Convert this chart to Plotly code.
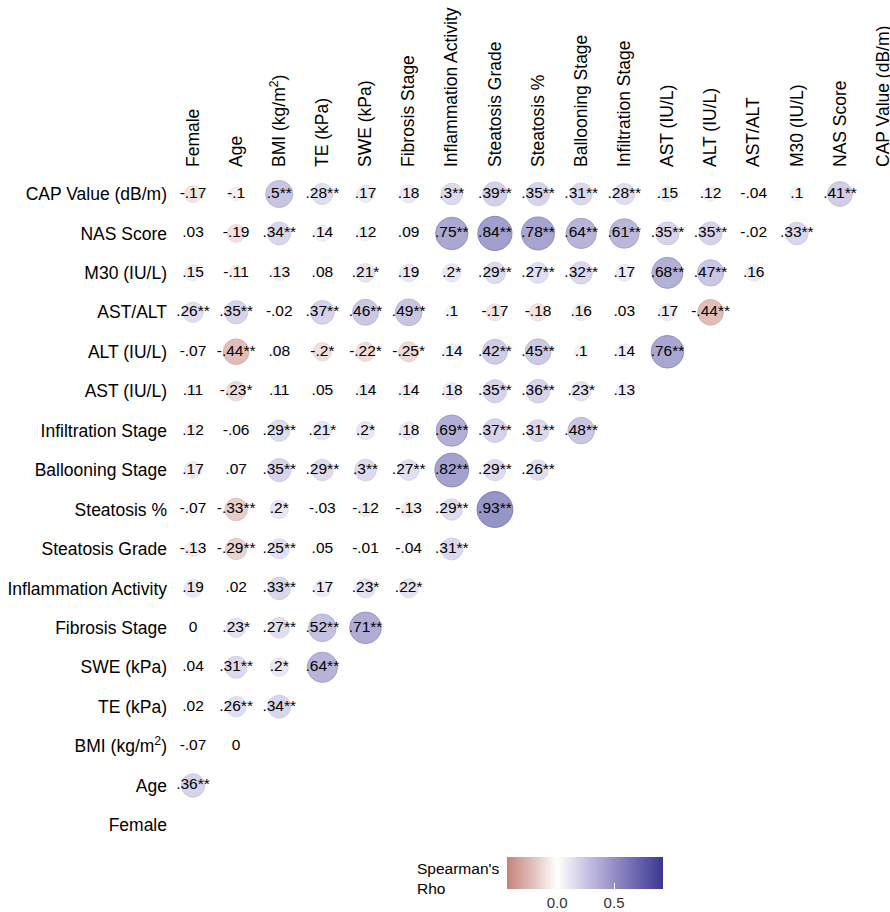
import plotly.graph_objects as go
from plotly.colors import sample_colorscale
import numpy as np

# Variables (column order left->right; row order bottom->top)
variables = ["Female", "Age", "BMI (kg/m<sup>2</sup>)", "TE (kPa)", "SWE (kPa)",
             "Fibrosis Stage", "Inflammation Activity", "Steatosis Grade",
             "Steatosis %", "Ballooning Stage", "Infiltration Stage",
             "AST (IU/L)", "ALT (IU/L)", "AST/ALT", "M30 (IU/L)", "NAS Score",
             "CAP Value (dB/m)"]

# Spearman's rho of each row variable with the preceding variables (Female first)
rho_age = [0.36]
rho_bmi = [-0.07, 0.0]
rho_te = [0.02, 0.26, 0.34]
rho_swe = [0.04, 0.31, 0.2, 0.64]
rho_fib = [0.0, 0.23, 0.27, 0.52, 0.71]
rho_infl = [0.19, 0.02, 0.33, 0.17, 0.23, 0.22]
rho_sgrade = [-0.13, -0.29, 0.25, 0.05, -0.01, -0.04, 0.31]
rho_spct = [-0.07, -0.33, 0.2, -0.03, -0.12, -0.13, 0.29, 0.93]
rho_ball = [0.17, 0.07, 0.35, 0.29, 0.3, 0.27, 0.82, 0.29, 0.26]
rho_infil = [0.12, -0.06, 0.29, 0.21, 0.2, 0.18, 0.69, 0.37, 0.31, 0.48]
rho_ast = [0.11, -0.23, 0.11, 0.05, 0.14, 0.14, 0.18, 0.35, 0.36, 0.23, 0.13]
rho_alt = [-0.07, -0.44, 0.08, -0.2, -0.22, -0.25, 0.14, 0.42, 0.45, 0.1, 0.14, 0.76]
rho_astalt = [0.26, 0.35, -0.02, 0.37, 0.46, 0.49, 0.1, -0.17, -0.18, 0.16, 0.03, 0.17, -0.44]
rho_m30 = [0.15, -0.11, 0.13, 0.08, 0.21, 0.19, 0.2, 0.29, 0.27, 0.32, 0.17, 0.68, 0.47, 0.16]
rho_nas = [0.03, -0.19, 0.34, 0.14, 0.12, 0.09, 0.75, 0.84, 0.78, 0.64, 0.61, 0.35, 0.35, -0.02, 0.33]
rho_cap = [-0.17, -0.1, 0.5, 0.28, 0.17, 0.18, 0.3, 0.39, 0.35, 0.31, 0.28, 0.15, 0.12, -0.04, 0.1, 0.41]

# Significance markers
sig_age = ["**"]
sig_bmi = ["", ""]
sig_te = ["", "**", "**"]
sig_swe = ["", "**", "*", "**"]
sig_fib = ["", "*", "**", "**", "**"]
sig_infl = ["", "", "**", "", "*", "*"]
sig_sgrade = ["", "**", "**", "", "", "", "**"]
sig_spct = ["", "**", "*", "", "", "", "**", "**"]
sig_ball = ["", "", "**", "**", "**", "**", "**", "**", "**"]
sig_infil = ["", "", "**", "*", "*", "", "**", "**", "**", "**"]
sig_ast = ["", "*", "", "", "", "", "", "**", "**", "*", ""]
sig_alt = ["", "**", "", "*", "*", "*", "", "**", "**", "", "", "**"]
sig_astalt = ["**", "**", "", "**", "**", "**", "", "", "", "", "", "", "**"]
sig_m30 = ["", "", "", "", "*", "", "*", "**", "**", "**", "", "**", "**", ""]
sig_nas = ["", "", "**", "", "", "", "**", "**", "**", "**", "**", "**", "**", "", "**"]
sig_cap = ["", "", "**", "**", "", "", "**", "**", "**", "**", "**", "", "", "", "", "**"]

rho_rows = [[], rho_age, rho_bmi, rho_te, rho_swe, rho_fib, rho_infl, rho_sgrade,
            rho_spct, rho_ball, rho_infil, rho_ast, rho_alt, rho_astalt, rho_m30,
            rho_nas, rho_cap]
sig_rows = [[], sig_age, sig_bmi, sig_te, sig_swe, sig_fib, sig_infl, sig_sgrade,
            sig_spct, sig_ball, sig_infil, sig_ast, sig_alt, sig_astalt, sig_m30,
            sig_nas, sig_cap]

cbar_ticks = [0.0, 0.5]
cbar_ticktext = ["0.0", "0.5"]
cmin, cmax = -0.44, 0.93


def fmt(v):
    if v == 0:
        return "0"
    s = ("%.2f" % abs(v)).rstrip("0").rstrip(".")
    s = s.lstrip("0")
    return ("-" if v < 0 else "") + s


def npos(v):
    return (v - cmin) / (cmax - cmin)


colorscale = [[0.0, "#c4837b"], [npos(-0.2), "#e4c3bf"], [npos(0.0), "#ffffff"],
              [npos(0.25), "#c9c5e3"], [npos(0.5), "#958fc6"], [1.0, "#3a3796"]]

xs, ys, vals, texts = [], [], [], []
for r, (rr, ss) in enumerate(zip(rho_rows, sig_rows)):
    for c, (v, s) in enumerate(zip(rr, ss)):
        xs.append(c)
        ys.append(r)
        vals.append(v)
        texts.append(fmt(v) + s)

vals = np.array(vals)
base = sample_colorscale(colorscale, [npos(v) for v in vals])


def rgba(col, a):
    inner = col[col.index("(") + 1:col.index(")")]
    r, g, b = [float(t) for t in inner.split(",")]
    return "rgba(%d,%d,%d,%.2f)" % (round(r), round(g), round(b), a)


fill = [rgba(c, 0.75) for c in base]
edge = [rgba(c, 0.9) for c in base]
sizes = 3 + 34 * np.sqrt(np.abs(vals))

FONT = "Liberation Sans, Arial, sans-serif"

W, H = 890, 912
ML, MT, MB = 171, 168, 67
PW = W - ML
PH = H - MT - MB

fig = go.Figure()
fig.add_trace(go.Scatter(
    x=xs, y=ys, mode="markers+text", text=texts, textposition="middle center",
    textfont=dict(family=FONT, size=15.5, color="black"),
    marker=dict(size=sizes, color=fill, line=dict(color=edge, width=1)),
    hoverinfo="skip", showlegend=False))

# colorbar carrier
fig.add_trace(go.Scatter(
    x=[0], y=[0], mode="markers", hoverinfo="skip", showlegend=False,
    marker=dict(size=0.1, opacity=0, color=[0], colorscale=colorscale, cmin=cmin, cmax=cmax,
                showscale=True,
                colorbar=dict(orientation="h", x=(585 - ML) / PW, xanchor="center",
                              y=-(857 - (H - MB)) / PH, yanchor="top", len=156,
                              lenmode="pixels", thickness=32, outlinewidth=0, ypad=0, xpad=0,
                              tickvals=cbar_ticks, ticktext=cbar_ticktext,
                              ticks="inside", tickcolor="white", ticklen=6,
                              tickfont=dict(family=FONT, size=15, color="#333333")))))

fig.add_annotation(text="Spearman's<br>Rho", xref="paper", yref="paper",
                   x=(415 - ML) / PW, y=-(858 - (H - MB)) / PH, xanchor="left",
                   yanchor="top", align="left", showarrow=False,
                   font=dict(family=FONT, size=15.5, color="black"))

# row 16 (CAP) at page y=194, row 0 (Female) at y=825
step = (825 - 194) / 16.0
y_top = 16 + (194 - MT) / step
y_bot = -((H - MB) - 825) / step

axfont = dict(family=FONT, size=17.5, color="black")
fig.update_layout(
    width=W, height=H,
    margin=dict(l=ML, r=0, t=MT, b=MB, autoexpand=False),
    paper_bgcolor="white", plot_bgcolor="white",
    xaxis=dict(range=[-0.51, 16.16], side="top", tickmode="array",
               tickvals=list(range(len(variables))), ticktext=variables,
               tickangle=-90, showgrid=False, zeroline=False, showline=False,
               ticks="", tickfont=axfont, fixedrange=True, automargin=False,
               ticklabeloverflow="allow"),
    yaxis=dict(range=[y_bot, y_top], tickmode="array",
               tickvals=list(range(len(variables))), ticktext=variables,
               showgrid=False, zeroline=False, showline=False,
               ticks="", tickfont=axfont, fixedrange=True, automargin=False,
               ticklabeloverflow="allow", ticklabelstandoff=3),
)

fig.write_html("out.html", config={"displayModeBar": False},
               post_script="document.body.style.margin='0';document.body.style.overflow='hidden';")
